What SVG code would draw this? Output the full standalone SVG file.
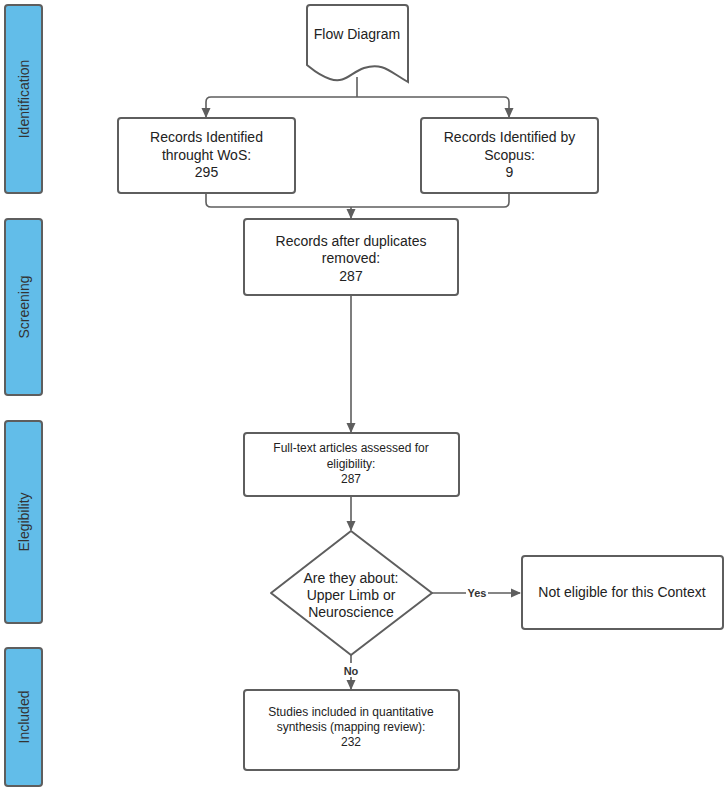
<svg xmlns="http://www.w3.org/2000/svg" width="726" height="791" viewBox="0 0 726 791">
<defs>
<marker id="ah" markerWidth="10" markerHeight="10" refX="9" refY="5" orient="auto" markerUnits="userSpaceOnUse">
<path d="M0,0.5 L10,5 L0,9.5 Z" fill="#5e5e5e"/>
</marker>
<style>
.bar{fill:#62bde9;stroke:#5e5e5e;stroke-width:2}
.box{fill:#ffffff;stroke:#5e5e5e;stroke-width:2}
.ln{fill:none;stroke:#5e5e5e;stroke-width:1.6}
.t{font-family:"Liberation Sans",Arial,sans-serif;font-size:14px;fill:#222;text-anchor:middle}
.s{font-size:12px}
.lab{font-family:"Liberation Sans",Arial,sans-serif;font-size:14px;fill:#333;text-anchor:middle}
.b{font-family:"Liberation Sans",Arial,sans-serif;font-size:11px;font-weight:bold;fill:#333;text-anchor:middle}
</style>
</defs>
<rect width="726" height="791" fill="#ffffff"/>
<g id="bar-identification"><rect class="bar" x="5" y="5" width="37" height="188" rx="3"/><text class="lab" transform="translate(28.5,99) rotate(-90)">Identification</text></g>
<g id="bar-screening"><rect class="bar" x="5" y="219" width="37" height="176" rx="3"/><text class="lab" transform="translate(28.5,307) rotate(-90)">Screening</text></g>
<g id="bar-eligibility"><rect class="bar" x="5" y="421" width="37" height="202" rx="3"/><text class="lab" transform="translate(28.5,522) rotate(-90)">Elegibility</text></g>
<g id="bar-included"><rect class="bar" x="5" y="648" width="37" height="138" rx="3"/><text class="lab" transform="translate(28.5,717) rotate(-90)">Included</text></g>

<g id="connectors">
<path class="ln" d="M357,77 V97"/>
<path class="ln" d="M357,97 H211 Q206,97 206,102 V117" marker-end="url(#ah)"/>
<path class="ln" d="M357,97 H504 Q509,97 509,102 V117" marker-end="url(#ah)"/>
<path class="ln" d="M206,193 V202 Q206,207 211,207 H504 Q509,207 509,202 V193"/>
<path class="ln" d="M351,207 V218" marker-end="url(#ah)"/>
<path class="ln" d="M351,295 V432" marker-end="url(#ah)"/>
<path class="ln" d="M351,496 V530" marker-end="url(#ah)"/>
<path class="ln" d="M432,593 H466 M488,593 H520" marker-end="url(#ah)"/>
<text class="b" x="477" y="597">Yes</text>
<path class="ln" d="M351,655 V663 M351,677 V689" marker-end="url(#ah)"/>
<text class="b" x="351" y="675">No</text>
</g>

<g id="flow-diagram">
<path class="box" d="M310,5 H405 Q408,5 408,8 V82 C390,72 383,62 364,68 C350,73 345,84 330,79 C318,75 312,69 307,65 V8 Q307,5 310,5 Z"/>
<text class="t" x="357" y="39">Flow Diagram</text>
</g>
<g id="wos"><rect class="box" x="118" y="118" width="177" height="75" rx="3"/>
<text class="t" x="206.5" y="142">Records Identified</text><text class="t" x="206.5" y="160">throught WoS:</text><text class="t" x="206.5" y="177">295</text></g>
<g id="scopus"><rect class="box" x="421" y="118" width="177" height="75" rx="3"/>
<text class="t" x="509.5" y="142">Records Identified by</text><text class="t" x="509.5" y="160">Scopus:</text><text class="t" x="509.5" y="177">9</text></g>
<g id="duplicates"><rect class="box" x="244" y="219" width="214" height="76" rx="3"/>
<text class="t" x="351" y="246">Records after duplicates</text><text class="t" x="351" y="263">removed:</text><text class="t" x="351" y="281">287</text></g>
<g id="fulltext"><rect class="box" x="244" y="433" width="215" height="63" rx="3"/>
<text class="t s" x="351" y="452">Full-text articles assessed for</text><text class="t s" x="351" y="468">eligibility:</text><text class="t s" x="351" y="483">287</text></g>
<g id="decision"><path class="box" d="M351,531 L432,593 L351,655 L271,593 Z" stroke-linejoin="round"/>
<text class="t" x="351" y="583">Are they about:</text><text class="t" x="351" y="600">Upper Limb or</text><text class="t" x="351" y="617">Neuroscience</text></g>
<g id="not-eligible"><rect class="box" x="522" y="556" width="201" height="73" rx="3"/>
<text class="t" x="622" y="597">Not eligible for this Context</text></g>
<g id="included"><rect class="box" x="244" y="690" width="215" height="80" rx="3"/>
<text class="t s" x="351" y="716">Studies included in quantitative</text><text class="t s" x="351" y="731">synthesis (mapping review):</text><text class="t s" x="351" y="746">232</text></g>
</svg>
